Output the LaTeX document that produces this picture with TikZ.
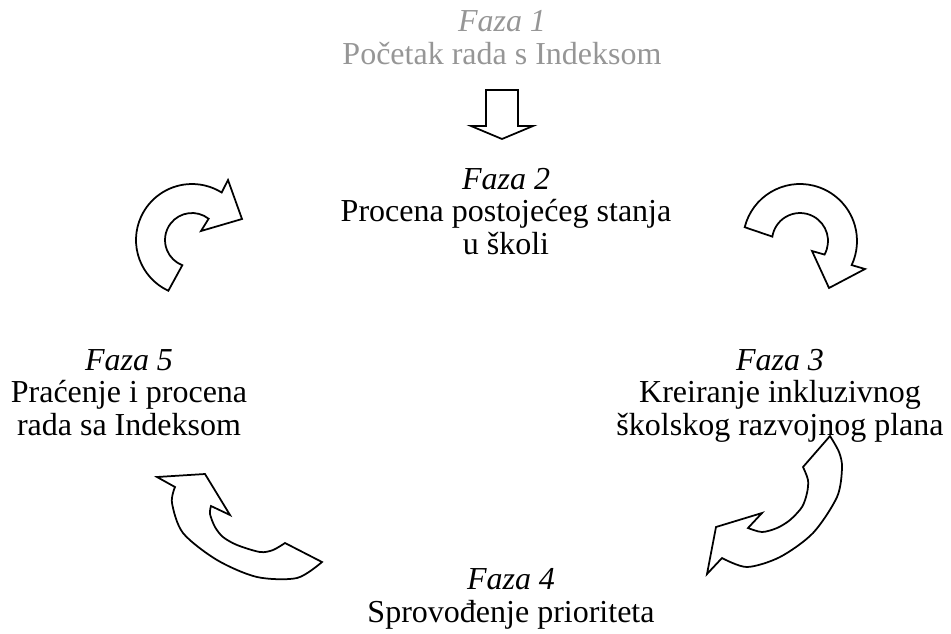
\documentclass[tikz,border=0pt]{standalone}
\usepackage{fontspec}
\setmainfont{Liberation Serif}
\definecolor{sivo}{RGB}{150,150,150}

\begin{document}
\begin{tikzpicture}[x=0.4pt, y=0.4pt,
    faza/.style={align=center, anchor=base, inner sep=0pt,
      font=\fontsize{12.8}{13}\selectfont},
    strelica/.style={draw=black, line width=0.7pt, line join=miter}]
  \useasboundingbox (0,0) rectangle (951,-633);

  % faze (anchor=base je osnovna linija poslednjeg reda)
  \node [faza, text=sivo] (faza1) at (502,-64) {\textit{Faza 1}\\Početak rada s Indeksom};
  \node [faza] (faza2) at (506,-254) {\textit{Faza 2}\\Procena postojećeg stanja\\u školi};
  \node [faza] (faza3) at (780,-435) {\textit{Faza 3}\\Kreiranje inkluzivnog\\školskog razvojnog plana};
  \node [faza] (faza4) at (511,-622) {\textit{Faza 4}\\Sprovođenje prioriteta};
  \node [faza] (faza5) at (129,-435) {\textit{Faza 5}\\Praćenje i procena\\rada sa Indeksom};

  % strelica od faze 1 ka fazi 2
  \draw [strelica] (486,-90) -- (518,-90) -- (518,-126) -- (533,-126)
    -- (502,-139) -- (471,-126) -- (486,-126) -- cycle;

  % kruzne strelice
  \coordinate (c52) at (192,-240);
  \draw [strelica] ([shift={(245:56)}]c52) arc (245:58:56) -- (228,-180)
    -- (242,-219) -- (201,-231) -- ([shift={(52:27)}]c52) arc (52:249:27) -- cycle;

  \coordinate (c23) at (800,-241);
  \draw [strelica] ([shift={(166:57)}]c23) arc (166:-25:57) -- (865,-269)
    -- (829,-288) -- (812,-251) -- ([shift={(-29:28)}]c23) arc (-29:171:28) -- cycle;

  \draw [strelica] plot [smooth] coordinates {(830,-436) (839,-452) (842,-468)
      (837,-497) (813,-533) (780,-557) (747,-567) (722,-558)}
    -- (707,-574) -- (716,-527) -- (762,-513) -- (748,-528)
    -- plot [smooth] coordinates {(748,-528) (762,-532) (777,-528) (790,-520)
      (802,-507) (807,-493) (808,-480) (803,-467)} -- cycle;

  \draw [strelica] plot [smooth] coordinates {(285,-543) (273,-550) (260,-552)
      (237,-545) (223,-537) (215,-527) (210,-514) (211,-506)}
    -- (230,-515) -- (205,-474) -- (157,-477) -- (175,-487)
    -- plot [smooth] coordinates {(175,-487) (172,-503) (183,-533) (217,-560)
      (257,-577) (297,-578) (322,-562)} -- cycle;
\end{tikzpicture}
\end{document}
